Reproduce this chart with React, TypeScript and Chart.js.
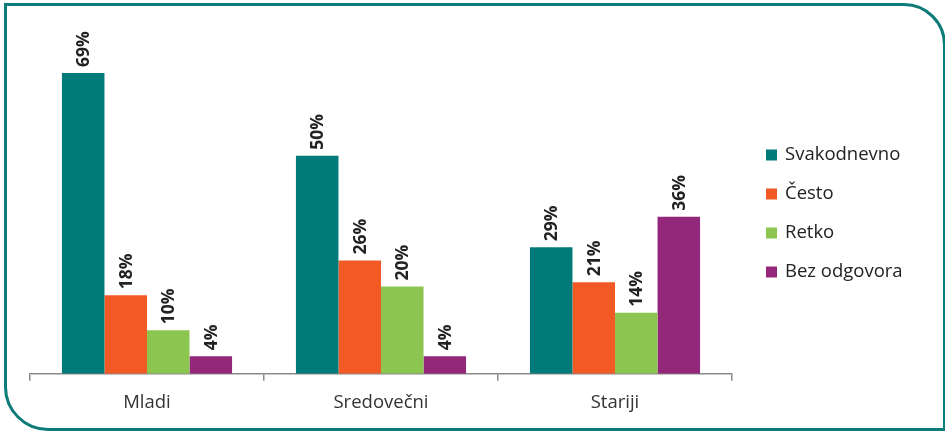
import React, { useEffect, useRef } from "react";
import { Chart, registerables } from "chart.js";

Chart.register(...registerables);

const categories = ["Mladi", "Sredovečni", "Stariji"];
const seriesNames = ["Svakodnevno", "Često", "Retko", "Bez odgovora"];
const svakodnevno = [69, 50, 29];
const cesto = [18, 26, 21];
const retko = [10, 20, 14];
const bezOdgovora = [4, 4, 36];
const seriesColors = ["#007b7a", "#f15a24", "#8cc651", "#93287b"];

const FONT = "'Open Sans', 'Noto Sans', sans-serif";

const valueLabels = {
  id: "valueLabels",
  afterDatasetsDraw(chart: any) {
    const ctx = chart.ctx;
    ctx.save();
    ctx.font = `bold 17.5px ${FONT}`;
    ctx.fillStyle = "#222222";
    ctx.textAlign = "left";
    ctx.textBaseline = "middle";
    chart.data.datasets.forEach((ds: any, di: number) => {
      const meta = chart.getDatasetMeta(di);
      meta.data.forEach((el: any, i: number) => {
        ctx.save();
        ctx.translate(el.x, el.y - 6);
        ctx.rotate(-Math.PI / 2);
        ctx.fillText(`${ds.data[i]}%`, 0, 1);
        ctx.restore();
      });
    });
    ctx.restore();
  },
};

const sideLegend = {
  id: "sideLegend",
  afterDraw(chart: any) {
    const ctx = chart.ctx;
    const x0 = chart.chartArea.right + 34;
    const yStart = 155;
    const step = 39;
    ctx.save();
    ctx.font = `18.5px ${FONT}`;
    ctx.textBaseline = "middle";
    ctx.textAlign = "left";
    chart.data.datasets.forEach((ds: any, i: number) => {
      const y = yStart + i * step;
      ctx.fillStyle = ds.backgroundColor;
      ctx.fillRect(x0, y - 5.5, 11, 11);
      ctx.fillStyle = "#222222";
      ctx.fillText(ds.label, x0 + 19, y);
    });
    ctx.restore();
  },
};

export default function App() {
  const ref = useRef<HTMLCanvasElement | null>(null);

  useEffect(() => {
    if (!ref.current) return;
    const seriesValues = [svakodnevno, cesto, retko, bezOdgovora];
    const chart = new Chart(ref.current, {
      type: "bar",
      data: {
        labels: categories,
        datasets: seriesNames.map((name, i) => ({
          label: name,
          data: seriesValues[i],
          backgroundColor: seriesColors[i],
          borderWidth: 0,
          categoryPercentage: 0.727,
          barPercentage: 1,
        })),
      },
      options: {
        responsive: false,
        animation: false,
        devicePixelRatio: 1,
        layout: { padding: { left: 30, right: 213, top: 25, bottom: 7 } },
        plugins: {
          legend: { display: false },
          tooltip: { enabled: false },
        },
        scales: {
          y: { display: false, min: 0, max: 80 },
          x: {
            grid: {
              display: true,
              drawOnChartArea: false,
              drawTicks: true,
              tickLength: 7,
              color: "#8a8a8a",
              lineWidth: 1.5,
              offset: true,
            },
            border: { display: true, color: "#8a8a8a", width: 1.5 },
            ticks: {
              padding: 11,
              color: "#333333",
              font: { family: FONT, size: 18.5 },
            },
          },
        },
      },
      plugins: [valueLabels, sideLegend],
    });
    return () => chart.destroy();
  }, []);

  return (
    <div
      style={{
        position: "fixed",
        left: 0,
        top: 0,
        width: 945,
        height: 432,
        overflow: "hidden",
        background: "#ffffff",
      }}
    >
      <div
        style={{
          position: "absolute",
          left: 4,
          top: 3,
          width: 942,
          height: 428,
          boxSizing: "border-box",
          border: "3.5px solid #0f7b78",
          borderRadius: "0 42px 0 44px",
        }}
      />
      <canvas
        ref={ref}
        width={945}
        height={432}
        style={{ position: "absolute", left: 0, top: 0, width: 945, height: 432 }}
      />
    </div>
  );
}
